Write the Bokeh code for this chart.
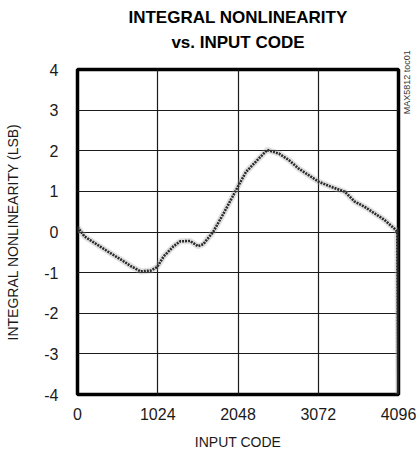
import math
from bokeh.plotting import figure
from bokeh.models import Range1d, FixedTicker, Title, LinearAxis
from bokeh.embed import file_html
from bokeh.resources import INLINE

# ---- data ----
input_code = [0, 40, 90, 218, 387, 555, 681, 807, 933, 1017, 1100, 1226, 1311, 1437,
              1538, 1605, 1730, 1853, 1979, 2042, 2151, 2295, 2420, 2571, 2697, 2823,
              2949, 3075, 3239, 3411, 3537, 3663, 3789, 3915, 4058, 4080, 4095]
inl_lsb = [0.12, 0.02, -0.11, -0.27, -0.48, -0.68, -0.84, -0.97, -0.95, -0.86, -0.60,
           -0.35, -0.23, -0.22, -0.35, -0.30, 0.00, 0.42, 0.87, 1.10, 1.48, 1.77, 2.02,
           1.93, 1.77, 1.56, 1.40, 1.24, 1.11, 0.99, 0.75, 0.62, 0.46, 0.30, 0.06, 0.00,
           -4.00]
x_ticks = [0, 1024, 2048, 3072, 4096]
y_ticks = [-4, -3, -2, -1, 0, 1, 2, 3, 4]
y_tick_labels = ["-4", "-3", "-2", "-1", "0", "1", "2", "3", "4"]

title_lines = ["INTEGRAL NONLINEARITY", "vs. INPUT CODE"]
x_label = "INPUT CODE"
y_label = "INTEGRAL NONLINEARITY (LSB)"
toc_label = "MAX5812 toc01"
toc_pos = 2.9

FONT = "'Liberation Sans', Arial, sans-serif"

p = figure(width=419, height=455, output_backend="svg", toolbar_location=None,
           title=None, x_range=Range1d(0, 4096), y_range=Range1d(-4, 4),
           min_border_left=77, min_border_right=18, min_border_top=69,
           min_border_bottom=61)
p.background_fill_color = "white"
p.border_fill_color = "white"
p.outline_line_color = "black"
p.outline_line_width = 3.5

# titles: a blank spacer next to the frame, then the second and first line
p.add_layout(Title(text=" ", text_font=FONT, text_font_size="8px", standoff=5), "above")
p.add_layout(Title(text=title_lines[1], align="center", vertical_align="bottom",
                   text_font=FONT, text_font_style="bold", text_font_size="17px",
                   text_color="black", standoff=4), "above")
p.add_layout(Title(text=title_lines[0], align="center", vertical_align="bottom",
                   text_font=FONT, text_font_style="bold", text_font_size="17px",
                   text_color="black", standoff=3), "above")

for ax, ticks in ((p.xaxis[0], x_ticks), (p.yaxis[0], y_ticks)):
    ax.ticker = FixedTicker(ticks=ticks)
    ax.axis_line_color = None
    ax.major_tick_line_color = None
    ax.minor_tick_line_color = None
    ax.major_tick_out = 0
    ax.major_tick_in = 0
    ax.major_label_text_font = FONT
    ax.major_label_text_font_size = "16px"
    ax.major_label_text_color = "#1a1a1a"
    ax.axis_label_text_font = FONT
    ax.axis_label_text_font_size = "14px"
    ax.axis_label_text_font_style = "normal"
    ax.axis_label_text_color = "#1a1a1a"

p.xaxis.major_label_standoff = 13
p.xaxis.axis_label = x_label
p.xaxis.axis_label_standoff = 11
p.yaxis.major_label_standoff = 19
p.yaxis.axis_label = y_label
p.yaxis.axis_label_standoff = 20
p.yaxis.major_label_orientation = "horizontal"
p.yaxis.major_label_overrides = dict(zip(y_ticks, y_tick_labels))

# figure id on the right, written along the frame
toc_axis = LinearAxis(ticker=FixedTicker(ticks=[toc_pos]),
                      major_label_overrides={toc_pos: toc_label},
                      major_label_orientation=math.pi / 2,
                      axis_line_color=None, major_tick_line_color=None,
                      minor_tick_line_color=None, major_tick_out=0, major_tick_in=0,
                      major_label_standoff=8, major_label_text_font=FONT,
                      major_label_text_font_size="9px",
                      major_label_text_color="#333333")
p.add_layout(toc_axis, "right")

p.xgrid.ticker = FixedTicker(ticks=x_ticks)
p.ygrid.ticker = FixedTicker(ticks=y_ticks)
for g in (p.xgrid[0], p.ygrid[0]):
    g.grid_line_color = "#1a1a1a"
    g.grid_line_width = 1.2
    g.grid_line_alpha = 1.0

# curve: faint halo + dark textured line
p.line(input_code, inl_lsb, line_color="#9a9a9a", line_width=6, line_alpha=0.3)
p.line(input_code, inl_lsb, line_color="#2a2a2a", line_width=2.6, line_dash="2 1")

open("out.html", "w").write(file_html(p, INLINE))
